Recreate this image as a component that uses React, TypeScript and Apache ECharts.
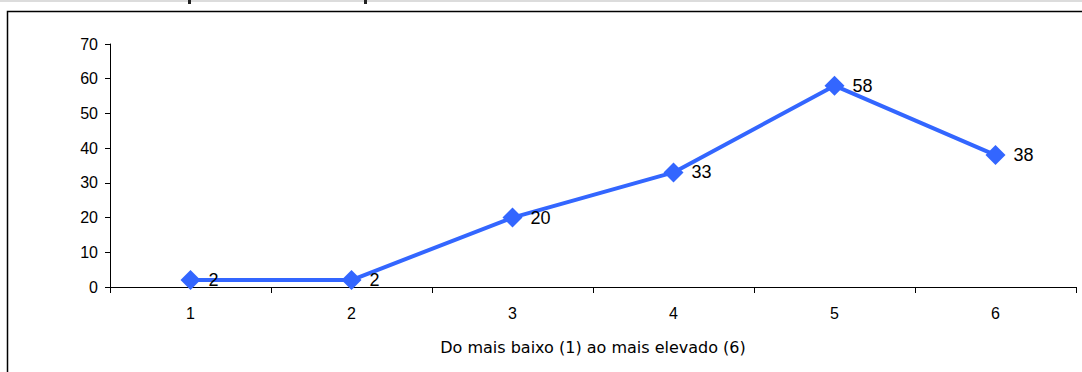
import React, { useEffect, useRef } from "react";
import * as echarts from "echarts";

const categories = ["1", "2", "3", "4", "5", "6"];
const values = [2, 2, 20, 33, 58, 38];
const xAxisName = "Do mais baixo (1) ao mais elevado (6)";

export default function App() {
  const ref = useRef<HTMLDivElement>(null);
  useEffect(() => {
    const chart = echarts.init(ref.current!, null, { renderer: "svg" });
    const font = "Liberation Sans, Arial, sans-serif";
    chart.setOption({
      animation: false,
      backgroundColor: "#fff",
      textStyle: { fontFamily: font },
      grid: { left: 110, right: 6, top: 44, bottom: 85, containLabel: false },
      xAxis: {
        type: "category",
        data: categories,
        boundaryGap: true,
        name: xAxisName,
        nameLocation: "middle",
        nameGap: 52,
        nameTextStyle: { color: "#000", fontSize: 16, fontFamily: "DejaVu Sans, sans-serif" },
        axisLine: { lineStyle: { color: "#000", width: 1 } },
        axisTick: { show: true, length: 6, inside: false, lineStyle: { color: "#000" } },
        axisLabel: { color: "#000", fontSize: 16, margin: 18, fontFamily: font },
        splitLine: { show: false },
      },
      yAxis: {
        type: "value",
        min: 0,
        max: 70,
        interval: 10,
        axisLine: { show: true, lineStyle: { color: "#000", width: 1 } },
        axisTick: { show: true, length: 5, lineStyle: { color: "#000" } },
        axisLabel: { color: "#000", fontSize: 16, margin: 12, fontFamily: font },
        splitLine: { show: false },
      },
      series: [
        {
          type: "line",
          data: values,
          symbol: "diamond",
          symbolSize: 20,
          itemStyle: { color: "#3366FF" },
          lineStyle: { color: "#3366FF", width: 4 },
          label: {
            show: true,
            position: "right",
            distance: 8,
            color: "#000",
            fontSize: 18,
            fontFamily: font,
          },
        },
      ],
      graphic: [
        { type: "rect", shape: { x: 0, y: 0, width: 1082, height: 2 }, style: { fill: "#dcdcdc" }, silent: true },
        { type: "rect", shape: { x: 188, y: 0, width: 3, height: 4 }, style: { fill: "#222" }, silent: true },
        { type: "rect", shape: { x: 364, y: 0, width: 3, height: 4 }, style: { fill: "#222" }, silent: true },
        {
          type: "polyline",
          shape: { points: [[7.5, 400], [7.5, 11.5], [1100, 11.5]] },
          style: { stroke: "#000", lineWidth: 1.5, fill: null },
          silent: true,
        },
      ],
    });
    return () => chart.dispose();
  }, []);
  return (
    <div
      ref={ref}
      style={{ position: "fixed", left: 0, top: 0, width: 1082, height: 372, background: "#fff" }}
    />
  );
}
